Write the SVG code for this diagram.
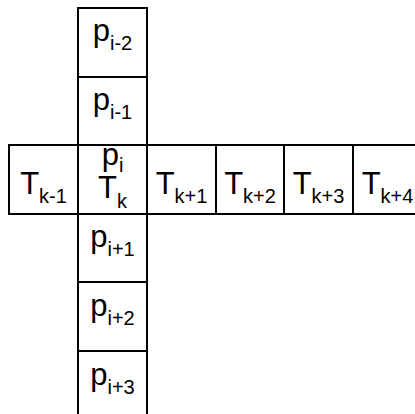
<svg xmlns="http://www.w3.org/2000/svg" width="415" height="414" viewBox="0 0 415 414">
<style>
.c{fill:#fff;stroke:#000;stroke-width:2}
.t{font-family:"Liberation Sans",Arial,sans-serif;font-size:31px;fill:#000;text-anchor:middle}
.s{font-size:20px}
</style>
<rect width="415" height="414" fill="#fff"/>
<g id="p_im2"><rect class="c" x="78" y="8" width="69" height="69"/><text class="t" x="112.5" y="41">p<tspan class="s" dy="8.5">i-2</tspan></text></g>
<g id="p_im1"><rect class="c" x="78" y="77" width="69" height="68"/><text class="t" x="112.5" y="110">p<tspan class="s" dy="8.5">i-1</tspan></text></g>
<g id="T_km1"><rect class="c" x="9" y="145" width="69" height="69"/><text class="t" x="43.5" y="193.5">T<tspan class="s" dy="9.5">k-1</tspan></text></g>
<g id="center"><rect class="c" x="78" y="145" width="69" height="69"/><text class="t" x="112.5" y="165">p<tspan class="s" dy="7">i</tspan></text><text class="t" x="112.5" y="198">T<tspan class="s" dy="10">k</tspan></text></g>
<g id="T_kp1"><rect class="c" x="147" y="145" width="69" height="69"/><text class="t" x="181.5" y="193.5">T<tspan class="s" dy="9.5">k+1</tspan></text></g>
<g id="T_kp2"><rect class="c" x="216" y="145" width="68" height="69"/><text class="t" x="250" y="193.5">T<tspan class="s" dy="9.5">k+2</tspan></text></g>
<g id="T_kp3"><rect class="c" x="284" y="145" width="69" height="69"/><text class="t" x="318.5" y="193.5">T<tspan class="s" dy="9.5">k+3</tspan></text></g>
<g id="T_kp4"><rect class="c" x="353" y="145" width="69" height="69"/><text class="t" x="387.5" y="193.5">T<tspan class="s" dy="9.5">k+4</tspan></text></g>
<g id="p_ip1"><rect class="c" x="78" y="214" width="69" height="68"/><text class="t" x="112.5" y="247">p<tspan class="s" dy="8.5">i+1</tspan></text></g>
<g id="p_ip2"><rect class="c" x="78" y="282" width="69" height="69"/><text class="t" x="112.5" y="316">p<tspan class="s" dy="8.5">i+2</tspan></text></g>
<g id="p_ip3"><rect class="c" x="78" y="351" width="69" height="69"/><text class="t" x="112.5" y="385">p<tspan class="s" dy="8.5">i+3</tspan></text></g>
<g id="connectors"/>
</svg>
